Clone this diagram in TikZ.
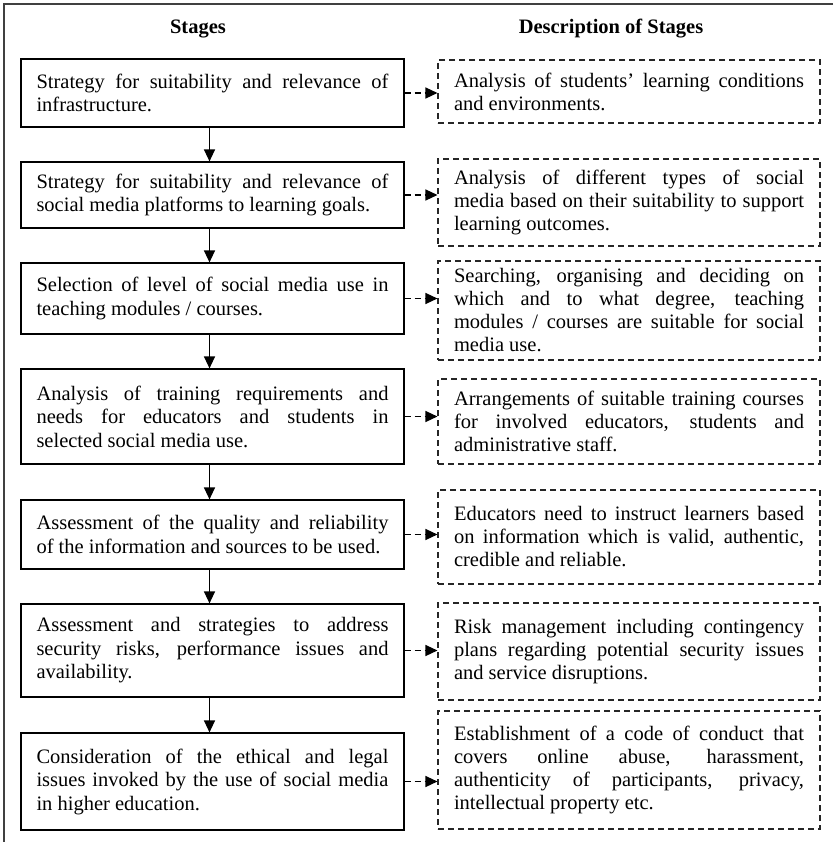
\documentclass[tikz,border=0pt]{standalone}
\usepackage{fontspec}
\setmainfont{Liberation Serif}
\usetikzlibrary{arrows.meta}

\begin{document}
\begin{tikzpicture}[x=1pt, y=-1pt,
  stage/.style={draw=black, line width=1.2pt, text width=352pt, inner xsep=15.5pt, inner ysep=0pt, align=justify, font=\fontsize{20.5}{23.5}\selectfont},
  descr/.style={draw=black!85, line width=1.1pt, dash pattern=on 6pt off 4pt, text width=350pt, inner xsep=16pt, inner ysep=0pt, align=justify, font=\fontsize{20.5}{23}\selectfont},
  head/.style={font=\bfseries\fontsize{20.5}{23.5}\selectfont},
  flow/.style={line width=1.3pt, -{Triangle[length=12pt, width=11pt]}},
  dflow/.style={line width=1.3pt, dash pattern=on 6pt off 4pt, -{Triangle[length=12pt, width=11pt]}}]
\useasboundingbox (0,0) rectangle (833,842);

% Outer frame (cut at right and bottom)
\draw[line width=2.5pt, black!75] (833,4) -- (4,4) -- (4,842);

% Column headings
\node[head] (hstage) at (198,29) {Stages};
\node[head] (hdescr) at (611,29) {Description of Stages};

% Stages (left column)
\node[stage, minimum height=68pt] (s1) at (212.5,93) {Strategy for suitability and relevance of\linebreak infrastructure.};
\node[stage, minimum height=66pt] (s2) at (212.5,195) {Strategy for suitability and relevance of\linebreak social media platforms to learning goals.};
\node[stage, minimum height=71pt] (s3) at (212.5,298.5) {Selection of level of social media use in\linebreak teaching modules / courses.};
\node[stage, minimum height=95pt] (s4) at (212.5,416.5) {Analysis of training requirements and\linebreak needs for educators and students in\linebreak selected social media use.};
\node[stage, minimum height=69pt] (s5) at (212.5,534.5) {Assessment of the quality and reliability\linebreak of the information and sources to be used.};
\node[stage, minimum height=93pt] (s6) at (212.5,650.5) {Assessment and strategies to address\linebreak security risks, performance issues and\linebreak availability.};
\node[stage, minimum height=97pt] (s7) at (212.5,781.5) {Consideration of the ethical and legal\linebreak issues invoked by the use of social media\linebreak in higher education.};

% Descriptions (right column)
\node[descr, minimum height=63pt] (d1) at (629,91.5) {Analysis of students' learning conditions\linebreak and environments.};
\node[descr, minimum height=87pt] (d2) at (629,202.5) {Analysis of different types of social\linebreak media based on their suitability to support\linebreak learning outcomes.};
\node[descr, minimum height=99pt] (d3) at (629,310.5) {Searching, organising and deciding on\linebreak which and to what degree, teaching\linebreak modules / courses are suitable for social\linebreak media use.};
\node[descr, minimum height=85pt] (d4) at (629,421.5) {Arrangements of suitable training courses\linebreak for involved educators, students and\linebreak administrative staff.};
\node[descr, minimum height=94pt] (d5) at (629,537) {Educators need to instruct learners based\linebreak on information which is valid, authentic,\linebreak credible and reliable.};
\node[descr, minimum height=97pt] (d6) at (629,651.5) {Risk management including contingency\linebreak plans regarding potential security issues\linebreak and service disruptions.};
\node[descr, minimum height=118pt] (d7) at (629,770) {Establishment of a code of conduct that\linebreak covers online abuse, harassment,\linebreak authenticity of participants, privacy,\linebreak intellectual property etc.};

% Stage flow (arrows sit a little left of the box centre)
\foreach \a/\b in {s1/s2, s2/s3, s3/s4, s4/s5, s5/s6, s6/s7}
  \draw[flow] ([xshift=-3pt]\a.south) -- ([xshift=-3pt]\b.north);

% Links to descriptions
\foreach \n in {1,...,7}
  \draw[dflow] (s\n.east) -- (s\n.east -| d\n.west);
\end{tikzpicture}
\end{document}
